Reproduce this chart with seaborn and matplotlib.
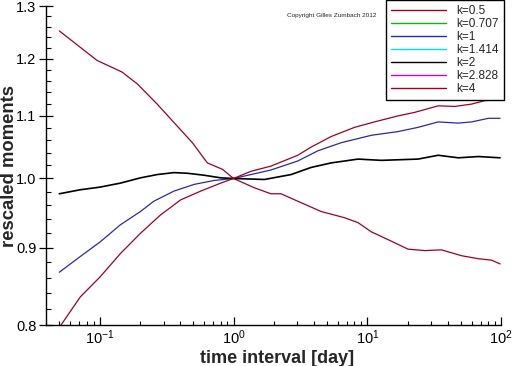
import numpy as np
import pandas as pd
import matplotlib
matplotlib.use("Agg")
import matplotlib.pyplot as plt
import seaborn as sns
from matplotlib.lines import Line2D
from matplotlib.ticker import FixedLocator, FixedFormatter, LogLocator, NullFormatter

# ============ Data ============

# k = 0.5 (decreasing)
x_k05 = [0.050, 0.0956, 0.147, 0.191, 0.269, 0.359, 0.493, 0.638, 0.828, 1.0,
         1.43, 1.90, 2.26, 3.02, 4.51, 6.75, 8.51, 10.7, 14.3, 20.1, 26.8,
         35.8, 50.6, 67.5, 84.9, 98.0]
y_k05 = [1.252, 1.197, 1.176, 1.155, 1.120, 1.089, 1.056, 1.024, 1.014, 1.0,
         0.986, 0.977, 0.977, 0.966, 0.951, 0.942, 0.935, 0.922, 0.911, 0.898,
         0.896, 0.897, 0.889, 0.885, 0.883, 0.878]

# k = 1
x_k1 = [0.050, 0.0717, 0.101, 0.143, 0.202, 0.254, 0.359, 0.507, 0.716, 1.0,
        1.35, 1.90, 3.02, 4.26, 6.37, 10.7, 16.9, 23.9, 33.8, 47.8, 60.1,
        80.2, 98.0]
y_k1 = [0.867, 0.888, 0.908, 0.932, 0.951, 0.966, 0.981, 0.991, 0.997, 1.0,
        1.006, 1.013, 1.027, 1.043, 1.056, 1.068, 1.074, 1.081, 1.090, 1.088,
        1.090, 1.096, 1.096]

# k = 2
x_k2 = [0.050, 0.0717, 0.101, 0.143, 0.202, 0.269, 0.359, 0.452, 0.602, 0.803,
        1.0, 1.70, 2.69, 3.80, 5.36, 8.51, 12.7, 23.9, 33.8, 47.8, 67.5, 98.0]
y_k2 = [0.977, 0.983, 0.987, 0.993, 1.001, 1.006, 1.009, 1.008, 1.005, 1.001,
        1.0, 0.9985, 1.006, 1.017, 1.024, 1.030, 1.028, 1.030, 1.036, 1.032,
        1.034, 1.032]

# k = 4 (increasing)
x_k4 = [0.050, 0.0717, 0.101, 0.143, 0.202, 0.285, 0.403, 0.569, 0.803, 1.0,
        1.35, 1.90, 3.02, 3.80, 5.36, 8.02, 11.3, 16.9, 22.6, 33.8, 45.1,
        60.1, 75.6, 98.0]
y_k4 = [0.797, 0.835, 0.861, 0.892, 0.920, 0.946, 0.968, 0.981, 0.993, 1.0,
        1.011, 1.019, 1.036, 1.049, 1.066, 1.081, 1.090, 1.100, 1.106, 1.117,
        1.116, 1.120, 1.126, 1.127]

legend_labels = ["k=0.5", "k=0.707", "k=1", "k=1.414", "k=2", "k=2.828", "k=4"]
legend_colors = ["#a0001e", "#00c000", "#2828b4", "#00e0e0", "#000000", "#d000d0", "#a0001e"]

y_ticks = [0.8, 0.9, 1.0, 1.1, 1.2, 1.3]
y_minor = [round(0.8 + 0.02 * i, 2) for i in range(26)]

# ============ Build table ============
frames = []
for lab, xs, ys in [("k=0.5", x_k05, y_k05), ("k=1", x_k1, y_k1),
                    ("k=2", x_k2, y_k2), ("k=4", x_k4, y_k4)]:
    frames.append(pd.DataFrame({"x": xs, "y": ys, "k": lab}))
df = pd.concat(frames, ignore_index=True)

palette = {lab: c for lab, c in zip(legend_labels, legend_colors)}

# ============ Plot ============
sns.set_style("white")
plt.rcParams['font.family'] = ['Liberation Sans', 'DejaVu Sans']

fig = plt.figure(figsize=(5.12, 3.66), dpi=100)
ax = fig.add_axes([0.090, 0.112, 0.889, 0.871])

sns.lineplot(data=df, x="x", y="y", hue="k", palette=palette, sort=False,
             estimator=None, linewidth=0.9, legend=False, ax=ax)
# black line is a touch heavier in the reference
for line in ax.get_lines():
    if line.get_color() in ("#000000", "black"):
        line.set_linewidth(1.2)

ax.set_xscale("log")
ax.set_yscale("log")
ax.set_xlim(0.0398, 100)
ax.set_ylim(0.8, 1.3)

ax.yaxis.set_major_locator(FixedLocator(y_ticks))
ax.yaxis.set_major_formatter(FixedFormatter([f"{v:.1f}" for v in y_ticks]))
ax.yaxis.set_minor_locator(FixedLocator(y_minor))
ax.yaxis.set_minor_formatter(NullFormatter())
ax.xaxis.set_major_locator(LogLocator(base=10))
ax.xaxis.set_minor_locator(LogLocator(base=10, subs=np.arange(2, 10)))
ax.xaxis.set_minor_formatter(NullFormatter())

ax.tick_params(which="both", colors="black", labelsize=10.5,
               left=True, bottom=True, top=False, right=False)
ax.tick_params(axis="x", which="major", direction="in", length=5.5, width=0.9, pad=2.5)
ax.tick_params(axis="x", which="minor", direction="in", length=3.2, width=0.8)
ax.tick_params(axis="y", which="major", direction="inout", length=10, width=0.9, pad=2)
ax.tick_params(axis="y", which="minor", direction="in", length=3.8, width=0.8)

for side in ["top", "right"]:
    ax.spines[side].set_visible(False)
for side in ["left", "bottom"]:
    ax.spines[side].set_color("black")
    ax.spines[side].set_linewidth(1.0)

ax.set_xlabel("time interval [day]", fontsize=13, fontweight="bold", va="center")
ax.set_ylabel("rescaled moments", fontsize=13.3, fontweight="bold", va="center")
ax.xaxis.set_label_coords(0.507, -0.104)
ax.yaxis.set_label_coords(-0.081, 0.5)

handles = [Line2D([], [], color=c, lw=1.0) for c in legend_colors]
leg = fig.legend(handles, legend_labels, loc="upper left",
                 bbox_to_anchor=(0.754, 1.0), frameon=True, fancybox=False,
                 edgecolor="black", framealpha=1, fontsize=8.5, handlelength=4.6,
                 handletextpad=0.9, labelspacing=0.08, borderpad=0.45,
                 borderaxespad=0)
leg.get_frame().set_linewidth(1.0)

fig.text(0.561, 0.957, "Copyright Gilles Zumbach 2012", fontsize=4.6,
         ha="left", va="center")

fig.savefig("out.png", dpi=100)
